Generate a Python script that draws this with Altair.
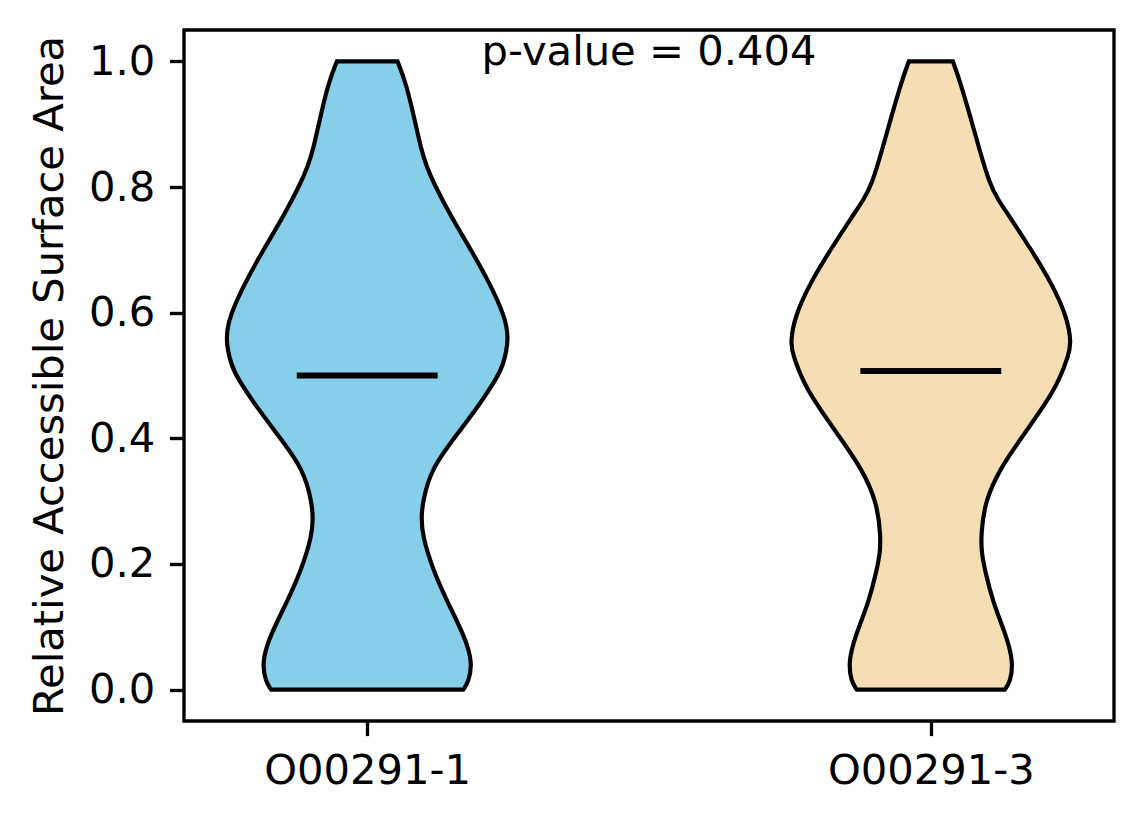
import altair as alt
import pandas as pd

# ---- data ----
names = ["O00291-1", "O00291-3"]
positions = [1, 2]
colors = ["#87CEEB", "#F5DEB3"]
means = [0.500, 0.507]
pvalue_text = "p-value = 0.404"

# violin 1: value grid and half-widths (x data units)
v1 = [0.0, 0.012, 0.044, 0.086, 0.139, 0.192, 0.245, 0.272, 0.298, 0.351, 0.404,
      0.457, 0.494, 0.515, 0.558, 0.595, 0.648, 0.700, 0.753, 0.806, 0.833, 0.859,
      0.912, 0.965, 1.0]
hw1 = [0.1705, 0.180, 0.187, 0.1723, 0.1426, 0.116, 0.0982, 0.0960, 0.0982, 0.1131,
       0.1575, 0.202, 0.2286, 0.2410, 0.252, 0.2440, 0.2167, 0.1842, 0.1487, 0.118,
       0.1055, 0.0960, 0.0830, 0.0690, 0.0538]

# violin 2
v2 = [0.0, 0.012, 0.044, 0.086, 0.139, 0.192, 0.219, 0.245, 0.298, 0.351, 0.404,
      0.457, 0.494, 0.531, 0.552, 0.595, 0.648, 0.700, 0.753, 0.780, 0.806,
      0.859, 0.912, 0.965, 1.0]
hw2 = [0.1314, 0.1410, 0.1465, 0.1339, 0.1101, 0.0954, 0.0900, 0.0890, 0.0954, 0.122,
       0.1634, 0.205, 0.2285, 0.2440, 0.2495, 0.2410, 0.2137, 0.1782, 0.1398,
       0.1190, 0.1040, 0.0865, 0.0700, 0.0530, 0.0391]

y_ticks = [0.0, 0.2, 0.4, 0.6, 0.8, 1.0]

# ---- build tables ----
rows = []
for name, pos, vs, hws in [(names[0], positions[0], v1, hw1), (names[1], positions[1], v2, hw2)]:
    for v, h in zip(vs, hws):
        rows.append({"group": name, "pos": pos, "v": v, "hw": h})
violin_df = pd.DataFrame(rows).sort_values(["group", "v"])

mean_df = pd.DataFrame({"group": names, "pos": positions, "mean": means})
text_df = pd.DataFrame({"x": [sum(positions) / 2], "y": [0.994], "label": [pvalue_text]})

FS = 41.67
LW = 3.33

xscale = alt.Scale(domain=[0.675, 2.325], nice=False, zero=False)
yscale = alt.Scale(domain=[-0.05, 1.05], nice=False, zero=False)

label_expr = " : ".join(
    [f"datum.value == {p} ? '{n}'" for p, n in zip(positions, names)]
) + " : ''"

violins = alt.Chart(violin_df).mark_area(
    orient="horizontal", interpolate="basis", stroke="black", strokeWidth=4.17,
    fillOpacity=1
).transform_calculate(
    left="datum.pos - datum.hw", right="datum.pos + datum.hw"
).encode(
    y=alt.Y("v:Q", scale=yscale,
            axis=alt.Axis(values=y_ticks, format=".1f",
                          title="Relative Accessible Surface Area", titlePadding=17)),
    x=alt.X("left:Q", scale=xscale,
            axis=alt.Axis(values=positions, labelExpr=label_expr, title=None)),
    x2="right:Q",
    color=alt.Color("group:N", scale=alt.Scale(domain=names, range=colors), legend=None),
    detail="group:N",
)

mean_lines = alt.Chart(mean_df).mark_rule(color="black", strokeWidth=6).transform_calculate(
    left="datum.pos - 0.125", right="datum.pos + 0.125"
).encode(
    x=alt.X("left:Q", scale=xscale),
    x2="right:Q",
    y=alt.Y("mean:Q", scale=yscale),
)

ptext = alt.Chart(text_df).mark_text(
    font="DejaVu Sans", fontSize=FS, color="black", align="center", baseline="alphabetic"
).encode(
    x=alt.X("x:Q", scale=xscale),
    y=alt.Y("y:Q", scale=yscale),
    text="label:N",
)

chart = alt.layer(violins, mean_lines, ptext).properties(
    width=930, height=691,
    autosize=alt.AutoSizeParams(type="none"),
    padding={"left": 176, "top": 22, "right": 20, "bottom": 95},
    background="white",
).configure_view(
    stroke="black", strokeWidth=LW
).configure_axis(
    grid=False, domain=False,
    labelFont="DejaVu Sans", labelFontSize=FS, labelColor="black", labelLimit=0,
    titleFont="DejaVu Sans", titleFontSize=FS, titleColor="black", titleFontWeight="normal",
    tickColor="black", tickWidth=LW, tickSize=14.6, labelPadding=14.6,
)

chart.save("out.html", embed_options={"renderer": "svg", "actions": False})
